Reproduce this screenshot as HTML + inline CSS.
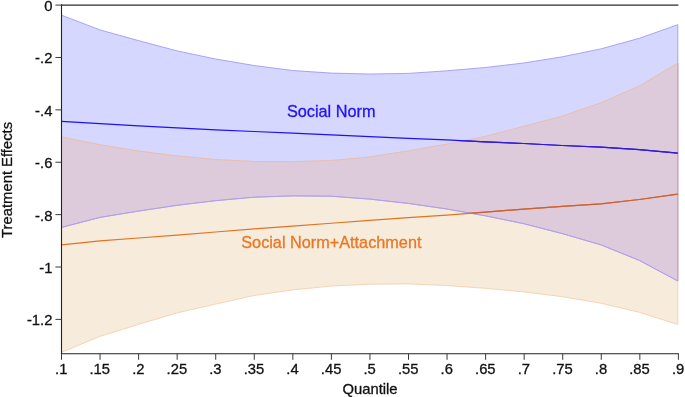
<!DOCTYPE html>
<html><head><meta charset="utf-8"><title>Quantile treatment effects</title>
<style>html,body{margin:0;padding:0;background:#fff;}body{width:685px;height:397px;overflow:hidden;}svg{display:block;will-change:transform;}text{font-family:"Liberation Sans",sans-serif;}.ax text{stroke:#111;stroke-width:0.3px;}</style></head><body>
<svg width="685" height="397" viewBox="0 0 685 397">
<rect width="685" height="397" fill="#fff"/>
<defs><clipPath id="cb"><polygon points="61.50,15.20 100.02,29.90 138.54,40.60 177.06,50.90 215.58,59.00 254.10,65.50 292.62,70.50 331.14,73.10 369.66,74.00 408.18,73.40 446.70,70.80 485.22,67.50 523.74,63.00 562.26,56.80 600.78,48.90 639.30,38.30 677.82,24.70 677.82,281.00 639.30,260.40 600.78,244.80 562.26,233.60 523.74,223.70 485.22,215.80 446.70,209.00 408.18,203.40 369.66,199.10 331.14,196.20 292.62,195.90 254.10,197.20 215.58,200.70 177.06,205.30 138.54,211.10 100.02,217.40 61.50,227.40"/></clipPath><clipPath id="co"><polygon points="61.50,137.00 100.02,144.80 138.54,151.10 177.06,155.90 215.58,159.50 254.10,161.50 292.62,161.60 331.14,160.50 369.66,157.00 408.18,150.90 446.70,144.20 485.22,136.40 523.74,126.40 562.26,116.10 600.78,102.90 639.30,86.00 677.82,63.10 677.82,324.50 639.30,312.30 600.78,303.20 562.26,296.70 523.74,291.90 485.22,288.30 446.70,285.50 408.18,283.90 369.66,284.20 331.14,286.10 292.62,289.90 254.10,295.50 215.58,304.10 177.06,312.90 138.54,324.40 100.02,336.30 61.50,352.40"/></clipPath></defs>
<polygon points="61.50,15.20 100.02,29.90 138.54,40.60 177.06,50.90 215.58,59.00 254.10,65.50 292.62,70.50 331.14,73.10 369.66,74.00 408.18,73.40 446.70,70.80 485.22,67.50 523.74,63.00 562.26,56.80 600.78,48.90 639.30,38.30 677.82,24.70 677.82,281.00 639.30,260.40 600.78,244.80 562.26,233.60 523.74,223.70 485.22,215.80 446.70,209.00 408.18,203.40 369.66,199.10 331.14,196.20 292.62,195.90 254.10,197.20 215.58,200.70 177.06,205.30 138.54,211.10 100.02,217.40 61.50,227.40" fill="rgb(213,215,254)"/>
<polygon points="61.50,137.00 100.02,144.80 138.54,151.10 177.06,155.90 215.58,159.50 254.10,161.50 292.62,161.60 331.14,160.50 369.66,157.00 408.18,150.90 446.70,144.20 485.22,136.40 523.74,126.40 562.26,116.10 600.78,102.90 639.30,86.00 677.82,63.10 677.82,324.50 639.30,312.30 600.78,303.20 562.26,296.70 523.74,291.90 485.22,288.30 446.70,285.50 408.18,283.90 369.66,284.20 331.14,286.10 292.62,289.90 254.10,295.50 215.58,304.10 177.06,312.90 138.54,324.40 100.02,336.30 61.50,352.40" fill="rgb(247,235,220)"/>
<polygon points="61.50,137.00 100.02,144.80 138.54,151.10 177.06,155.90 215.58,159.50 254.10,161.50 292.62,161.60 331.14,160.50 369.66,157.00 408.18,150.90 446.70,144.20 485.22,136.40 523.74,126.40 562.26,116.10 600.78,102.90 639.30,86.00 677.82,63.10 677.82,324.50 639.30,312.30 600.78,303.20 562.26,296.70 523.74,291.90 485.22,288.30 446.70,285.50 408.18,283.90 369.66,284.20 331.14,286.10 292.62,289.90 254.10,295.50 215.58,304.10 177.06,312.90 138.54,324.40 100.02,336.30 61.50,352.40" fill="rgb(221,203,220)" clip-path="url(#cb)"/>
<polygon points="61.50,15.20 100.02,29.90 138.54,40.60 177.06,50.90 215.58,59.00 254.10,65.50 292.62,70.50 331.14,73.10 369.66,74.00 408.18,73.40 446.70,70.80 485.22,67.50 523.74,63.00 562.26,56.80 600.78,48.90 639.30,38.30 677.82,24.70 677.82,281.00 639.30,260.40 600.78,244.80 562.26,233.60 523.74,223.70 485.22,215.80 446.70,209.00 408.18,203.40 369.66,199.10 331.14,196.20 292.62,195.90 254.10,197.20 215.58,200.70 177.06,205.30 138.54,211.10 100.02,217.40 61.50,227.40" fill="none" stroke="rgb(150,146,245)" stroke-width="0.8" stroke-linejoin="round"/>
<polygon points="61.50,137.00 100.02,144.80 138.54,151.10 177.06,155.90 215.58,159.50 254.10,161.50 292.62,161.60 331.14,160.50 369.66,157.00 408.18,150.90 446.70,144.20 485.22,136.40 523.74,126.40 562.26,116.10 600.78,102.90 639.30,86.00 677.82,63.10 677.82,324.50 639.30,312.30 600.78,303.20 562.26,296.70 523.74,291.90 485.22,288.30 446.70,285.50 408.18,283.90 369.66,284.20 331.14,286.10 292.62,289.90 254.10,295.50 215.58,304.10 177.06,312.90 138.54,324.40 100.02,336.30 61.50,352.40" fill="none" stroke="rgb(243,205,165)" stroke-width="0.8" stroke-linejoin="round"/>
<polygon points="61.50,15.20 100.02,29.90 138.54,40.60 177.06,50.90 215.58,59.00 254.10,65.50 292.62,70.50 331.14,73.10 369.66,74.00 408.18,73.40 446.70,70.80 485.22,67.50 523.74,63.00 562.26,56.80 600.78,48.90 639.30,38.30 677.82,24.70 677.82,281.00 639.30,260.40 600.78,244.80 562.26,233.60 523.74,223.70 485.22,215.80 446.70,209.00 408.18,203.40 369.66,199.10 331.14,196.20 292.62,195.90 254.10,197.20 215.58,200.70 177.06,205.30 138.54,211.10 100.02,217.40 61.50,227.40" fill="none" stroke="rgb(182,156,232)" stroke-width="0.7" clip-path="url(#co)"/>
<polygon points="61.50,137.00 100.02,144.80 138.54,151.10 177.06,155.90 215.58,159.50 254.10,161.50 292.62,161.60 331.14,160.50 369.66,157.00 408.18,150.90 446.70,144.20 485.22,136.40 523.74,126.40 562.26,116.10 600.78,102.90 639.30,86.00 677.82,63.10 677.82,324.50 639.30,312.30 600.78,303.20 562.26,296.70 523.74,291.90 485.22,288.30 446.70,285.50 408.18,283.90 369.66,284.20 331.14,286.10 292.62,289.90 254.10,295.50 215.58,304.10 177.06,312.90 138.54,324.40 100.02,336.30 61.50,352.40" fill="none" stroke="rgb(224,183,185)" stroke-width="0.7" clip-path="url(#cb)"/>
<line x1="677.82" y1="63.1" x2="677.82" y2="281.0" stroke="rgb(204,158,188)" stroke-width="0.9"/>
<polyline points="61.50,121.40 100.02,123.70 138.54,125.90 177.06,127.80 215.58,129.80 254.10,131.50 292.62,133.10 331.14,134.80 369.66,136.60 408.18,138.30 446.70,139.95 485.22,141.90 523.74,143.50 562.26,145.50 600.78,147.10 639.30,149.60 677.82,153.20" fill="none" stroke="rgb(32,16,246)" stroke-width="1.25"/>
<polyline points="61.50,121.40 100.02,123.70 138.54,125.90 177.06,127.80 215.58,129.80 254.10,131.50 292.62,133.10 331.14,134.80 369.66,136.60 408.18,138.30 446.70,139.95 485.22,141.90 523.74,143.50 562.26,145.50 600.78,147.10 639.30,149.60 677.82,153.20" fill="none" stroke="rgb(52,28,212)" stroke-width="1.25" clip-path="url(#co)"/>
<polyline points="61.50,244.80 100.02,240.80 138.54,238.00 177.06,235.10 215.58,232.00 254.10,228.90 292.62,226.10 331.14,223.25 369.66,220.40 408.18,217.55 446.70,215.15 485.22,212.10 523.74,209.10 562.26,206.40 600.78,203.80 639.30,199.50 677.82,194.20" fill="none" stroke="rgb(226,115,35)" stroke-width="1.25"/>
<polyline points="61.50,244.80 100.02,240.80 138.54,238.00 177.06,235.10 215.58,232.00 254.10,228.90 292.62,226.10 331.14,223.25 369.66,220.40 408.18,217.55 446.70,215.15 485.22,212.10 523.74,209.10 562.26,206.40 600.78,203.80 639.30,199.50 677.82,194.20" fill="none" stroke="rgb(202,98,56)" stroke-width="1.25" clip-path="url(#cb)"/>
<text x="331.2" y="117.2" text-anchor="middle" font-size="16.25" fill="rgb(32,16,246)" stroke="rgb(32,16,246)" stroke-width="0.3">Social Norm</text>
<text x="331.35" y="247.7" text-anchor="middle" font-size="16.25" fill="rgb(232,120,34)" stroke="rgb(232,120,34)" stroke-width="0.3">Social Norm+Attachment</text>
<g class="ax">
<line x1="61.5" y1="5.15" x2="678.4" y2="5.15" stroke="#2b2b2b" stroke-width="1.35"/>
<line x1="61.5" y1="4.3" x2="61.5" y2="354.25" stroke="#222" stroke-width="1.1"/>
<line x1="61.0" y1="353.75" x2="678.9" y2="353.75" stroke="#222" stroke-width="1.1"/>
<line x1="55.4" y1="5.10" x2="61.5" y2="5.10" stroke="#3a3a3a" stroke-width="1"/>
<text x="52.4" y="11.10" text-anchor="end" font-size="14.8" fill="#111">0</text>
<line x1="55.4" y1="57.48" x2="61.5" y2="57.48" stroke="#3a3a3a" stroke-width="1"/>
<text x="52.4" y="63.48" text-anchor="end" font-size="14.8" fill="#111">-.2</text>
<line x1="55.4" y1="109.86" x2="61.5" y2="109.86" stroke="#3a3a3a" stroke-width="1"/>
<text x="52.4" y="115.86" text-anchor="end" font-size="14.8" fill="#111">-.4</text>
<line x1="55.4" y1="162.24" x2="61.5" y2="162.24" stroke="#3a3a3a" stroke-width="1"/>
<text x="52.4" y="168.24" text-anchor="end" font-size="14.8" fill="#111">-.6</text>
<line x1="55.4" y1="214.62" x2="61.5" y2="214.62" stroke="#3a3a3a" stroke-width="1"/>
<text x="52.4" y="220.62" text-anchor="end" font-size="14.8" fill="#111">-.8</text>
<line x1="55.4" y1="267.00" x2="61.5" y2="267.00" stroke="#3a3a3a" stroke-width="1"/>
<text x="52.4" y="273.00" text-anchor="end" font-size="14.8" fill="#111">-1</text>
<line x1="55.4" y1="319.38" x2="61.5" y2="319.38" stroke="#3a3a3a" stroke-width="1"/>
<text x="52.4" y="325.38" text-anchor="end" font-size="14.8" fill="#111">-1.2</text>
<line x1="61.50" y1="353.75" x2="61.50" y2="359.8" stroke="#3a3a3a" stroke-width="1"/>
<text x="61.20" y="373.8" text-anchor="middle" font-size="14.8" fill="#111">.1</text>
<line x1="100.06" y1="353.75" x2="100.06" y2="359.8" stroke="#3a3a3a" stroke-width="1"/>
<text x="99.76" y="373.8" text-anchor="middle" font-size="14.8" fill="#111">.15</text>
<line x1="138.61" y1="353.75" x2="138.61" y2="359.8" stroke="#3a3a3a" stroke-width="1"/>
<text x="138.31" y="373.8" text-anchor="middle" font-size="14.8" fill="#111">.2</text>
<line x1="177.17" y1="353.75" x2="177.17" y2="359.8" stroke="#3a3a3a" stroke-width="1"/>
<text x="176.87" y="373.8" text-anchor="middle" font-size="14.8" fill="#111">.25</text>
<line x1="215.72" y1="353.75" x2="215.72" y2="359.8" stroke="#3a3a3a" stroke-width="1"/>
<text x="215.42" y="373.8" text-anchor="middle" font-size="14.8" fill="#111">.3</text>
<line x1="254.28" y1="353.75" x2="254.28" y2="359.8" stroke="#3a3a3a" stroke-width="1"/>
<text x="253.98" y="373.8" text-anchor="middle" font-size="14.8" fill="#111">.35</text>
<line x1="292.84" y1="353.75" x2="292.84" y2="359.8" stroke="#3a3a3a" stroke-width="1"/>
<text x="292.54" y="373.8" text-anchor="middle" font-size="14.8" fill="#111">.4</text>
<line x1="331.39" y1="353.75" x2="331.39" y2="359.8" stroke="#3a3a3a" stroke-width="1"/>
<text x="331.09" y="373.8" text-anchor="middle" font-size="14.8" fill="#111">.45</text>
<line x1="369.95" y1="353.75" x2="369.95" y2="359.8" stroke="#3a3a3a" stroke-width="1"/>
<text x="369.65" y="373.8" text-anchor="middle" font-size="14.8" fill="#111">.5</text>
<line x1="408.50" y1="353.75" x2="408.50" y2="359.8" stroke="#3a3a3a" stroke-width="1"/>
<text x="408.20" y="373.8" text-anchor="middle" font-size="14.8" fill="#111">.55</text>
<line x1="447.06" y1="353.75" x2="447.06" y2="359.8" stroke="#3a3a3a" stroke-width="1"/>
<text x="446.76" y="373.8" text-anchor="middle" font-size="14.8" fill="#111">.6</text>
<line x1="485.62" y1="353.75" x2="485.62" y2="359.8" stroke="#3a3a3a" stroke-width="1"/>
<text x="485.32" y="373.8" text-anchor="middle" font-size="14.8" fill="#111">.65</text>
<line x1="524.17" y1="353.75" x2="524.17" y2="359.8" stroke="#3a3a3a" stroke-width="1"/>
<text x="523.87" y="373.8" text-anchor="middle" font-size="14.8" fill="#111">.7</text>
<line x1="562.73" y1="353.75" x2="562.73" y2="359.8" stroke="#3a3a3a" stroke-width="1"/>
<text x="562.43" y="373.8" text-anchor="middle" font-size="14.8" fill="#111">.75</text>
<line x1="601.28" y1="353.75" x2="601.28" y2="359.8" stroke="#3a3a3a" stroke-width="1"/>
<text x="600.98" y="373.8" text-anchor="middle" font-size="14.8" fill="#111">.8</text>
<line x1="639.84" y1="353.75" x2="639.84" y2="359.8" stroke="#3a3a3a" stroke-width="1"/>
<text x="639.54" y="373.8" text-anchor="middle" font-size="14.8" fill="#111">.85</text>
<line x1="678.40" y1="353.75" x2="678.40" y2="359.8" stroke="#3a3a3a" stroke-width="1"/>
<text x="678.10" y="373.8" text-anchor="middle" font-size="14.8" fill="#111">.9</text>
<text x="370" y="394.1" text-anchor="middle" font-size="14.8" fill="#111">Quantile</text>
<text transform="translate(12.0,179.9) rotate(-90)" text-anchor="middle" font-size="14.8" fill="#111">Treatment Effects</text>
</g>
</svg></body></html>
